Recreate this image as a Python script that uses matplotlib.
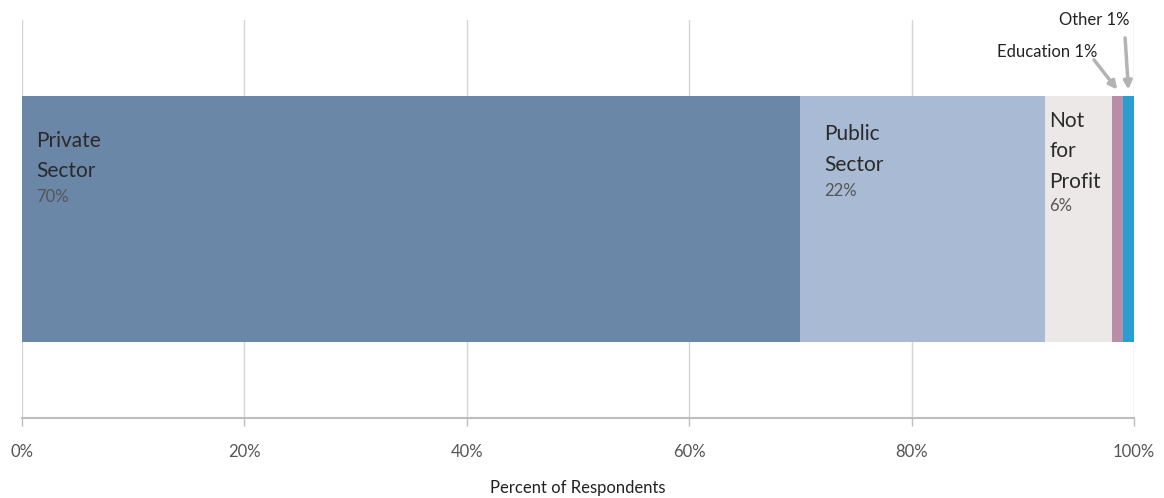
import matplotlib
matplotlib.use("Agg")
import matplotlib.pyplot as plt
from matplotlib.ticker import FuncFormatter

plt.rcParams['font.family'] = ['Lato', 'DejaVu Sans']

# Sector shares of respondents (percent)
sectors = ["Private Sector", "Public Sector", "Not for Profit", "Education", "Other"]
shares = [70, 22, 6, 1, 1]
colors = ["#6a87a8", "#a8bad4", "#ece8e8", "#b88ea6", "#2a9dd2"]
inline_names = ["Private\nSector", "Public\nSector", "Not\nfor\nProfit"]
tick_values = [0, 20, 40, 60, 80, 100]

fig = plt.figure(figsize=(11.64, 4.98), dpi=100)
ax = fig.add_axes([22 / 1164, 80 / 498, 1112 / 1164, 398 / 498])

left = 0
starts = []
for share, color in zip(shares, colors):
    ax.barh(0, share, left=left, height=0.618, color=color, edgecolor="none", zorder=2)
    starts.append(left)
    left += share

ax.set_xlim(0, 100)
ax.set_ylim(-0.5, 0.5)
ax.set_yticks([])
ax.set_xticks(tick_values)
ax.xaxis.set_major_formatter(FuncFormatter(lambda v, _: f"{v:.0f}%"))
ax.grid(axis="x", color="#d6d6d6", lw=1)
ax.set_axisbelow(True)
for side in ("top", "right", "left"):
    ax.spines[side].set_visible(False)
ax.spines["bottom"].set_color("#bdbdbd")
ax.spines["bottom"].set_linewidth(1.5)
ax.tick_params(axis="x", colors="#bdbdbd", length=6, width=1, labelcolor="#555555",
               labelsize=12, pad=13)
ax.set_xlabel("Percent of Respondents", fontsize=12, color="#222222", labelpad=14)

# Inline labels inside the three wide segments
name_tops = [0.222, 0.238, 0.272]
offsets = [10, 17, 3]
line_step = 20.6  # points between label lines
for i, name in enumerate(inline_names):
    x0 = starts[i]
    ax.annotate(name, xy=(x0, name_tops[i]), xytext=(offsets[i], 0),
                textcoords="offset points", ha="left", va="top",
                fontsize=15, color="#2a2a2a", linespacing=1.67, zorder=3)
    n_lines = name.count("\n") + 1
    ax.annotate(f"{shares[i]}%", xy=(x0, name_tops[i]),
                xytext=(offsets[i], -n_lines * line_step - 1),
                textcoords="offset points", ha="left", va="top",
                fontsize=12, color="#555555", zorder=3)

# Callouts for the two narrow segments
arrow_kw = dict(arrowstyle="-|>", color="#b3b3b3", lw=2.5, mutation_scale=12,
                shrinkA=0, shrinkB=0)
edu_mid = starts[3] + shares[3] / 2
oth_mid = starts[4] + shares[4] / 2
ax.annotate("", xy=(edu_mid, 0.325), xytext=(96.4, 0.40), arrowprops=arrow_kw,
            annotation_clip=False)
ax.annotate("", xy=(oth_mid, 0.325), xytext=(99.2, 0.455), arrowprops=arrow_kw,
            annotation_clip=False)
ax.text(96.7, 0.42, f"Education {shares[3]}%", ha="right", va="center",
        fontsize=12, color="#222222", clip_on=False)
ax.text(99.6, 0.50, f"Other {shares[4]}%", ha="right", va="center",
        fontsize=12, color="#222222", clip_on=False)

fig.savefig("out.png", dpi=100)
